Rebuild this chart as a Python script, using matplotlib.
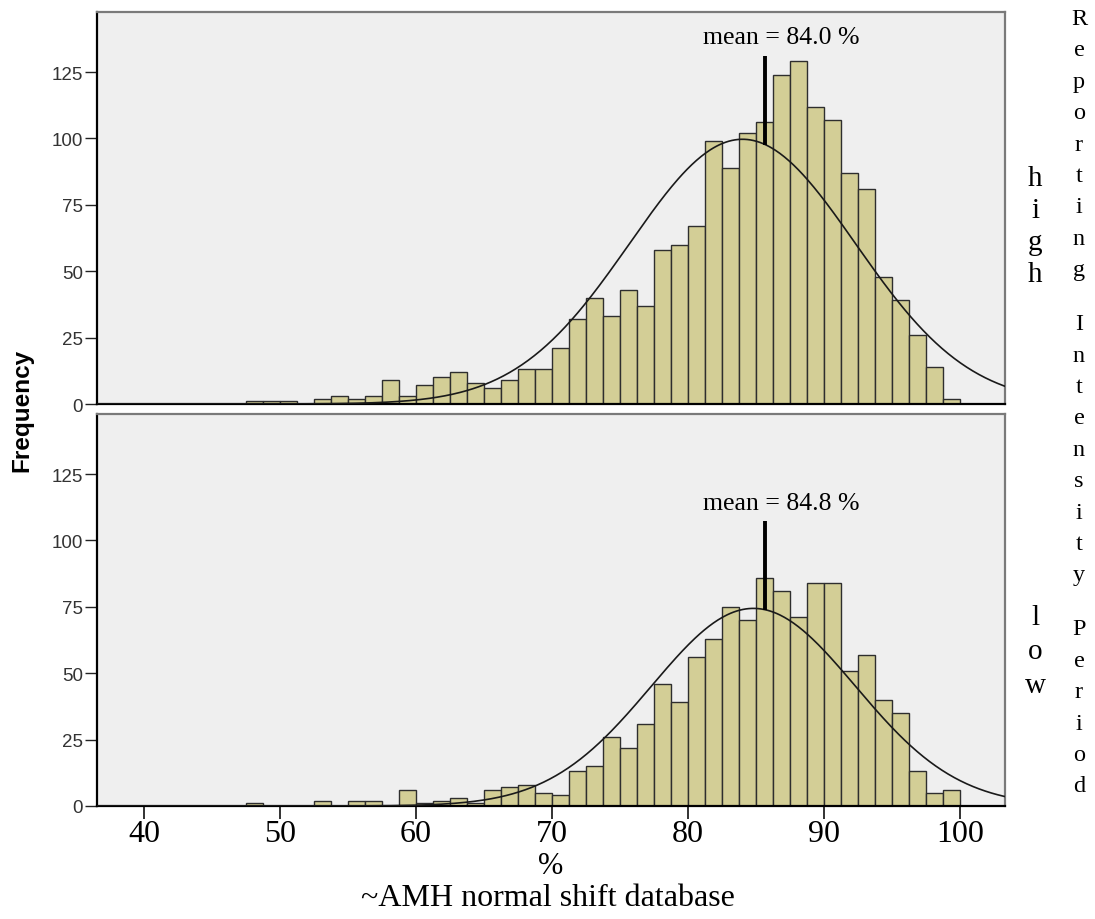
import numpy as np
import matplotlib
matplotlib.use('Agg')
import matplotlib.pyplot as plt

# histogram bins: 1.25 % wide, first bin starts at 47.5 %, last ends at 100 %
bin_start = 47.5
bin_width = 1.25

high_counts = [1, 1, 1, 0, 2, 3, 2, 3, 9, 3, 7, 10, 12, 8, 6, 9, 13, 13, 21, 32, 40,
               33, 43, 37, 58, 60, 67, 99, 89, 102, 106, 124, 129, 112, 107, 87, 81,
               48, 39, 26, 14, 2]
low_counts = [1, 0, 0, 0, 2, 0, 2, 2, 0, 6, 1, 2, 3, 1, 6, 7, 8, 5, 4, 13, 15,
              26, 22, 31, 46, 39, 56, 63, 75, 70, 86, 81, 71, 84, 84, 51, 57,
              40, 35, 13, 5, 6]

high_mean, high_sd = 84.0, 8.3
low_mean, low_sd = 84.8, 7.5

x_ticks = [40, 50, 60, 70, 80, 90, 100]
y_ticks = [0, 25, 50, 75, 100, 125]

W, H = 1095, 920
BAR = '#d3ce96'
FACE = '#efefef'
SERIF = 'Liberation Serif'
SANS = 'Liberation Sans'


def px_box(left, top, right, bottom):
    return [left / W, 1 - bottom / H, (right - left) / W, (bottom - top) / H]


def draw_panel(ax, counts, mean, sd, label_y, line_top, show_x):
    counts = np.array(counts)
    lefts = bin_start + bin_width * np.arange(len(counts))
    ax.set_facecolor(FACE)
    ax.bar(lefts, counts, width=bin_width, align='edge', color=BAR,
           edgecolor='#2e2e2e', linewidth=1.0, zorder=2)

    # fitted normal curve scaled to counts
    xs = np.linspace(36, 104, 600)
    n = counts.sum()
    ys = n * bin_width / (sd * np.sqrt(2 * np.pi)) * np.exp(-(xs - mean) ** 2 / (2 * sd ** 2))
    ax.plot(xs, ys, color='#1a1a1a', lw=1.2, zorder=3)

    # mean marker and label
    mark_x = 85.66
    curve_at_mark = n * bin_width / (sd * np.sqrt(2 * np.pi)) * np.exp(-(mark_x - mean) ** 2 / (2 * sd ** 2))
    ax.plot([mark_x, mark_x], [curve_at_mark, line_top], color='black', lw=2.8,
            solid_capstyle='butt', zorder=4)
    ax.text(mark_x + 1.2, label_y, 'mean = %.1f %%' % mean, ha='center', va='center',
            fontsize=18.5, family=SERIF, zorder=5)

    ax.set_xlim(36.54, 103.3)
    ax.set_ylim(0, 147.6)
    ax.set_yticks(y_ticks)
    ax.tick_params(axis='y', direction='out', length=9, width=1.0, color='#222222',
                   labelsize=13.5, labelcolor='#333333', pad=1)
    for t in ax.get_yticklabels():
        t.set_family(SANS)
    for side in ('left', 'bottom'):
        ax.spines[side].set_color('black')
        ax.spines[side].set_linewidth(1.6)
    for side in ('top', 'right'):
        ax.spines[side].set_color('#7a7a7a')
        ax.spines[side].set_linewidth(1.6)
    if show_x:
        ax.set_xticks(x_ticks)
        ax.tick_params(axis='x', direction='out', length=9, width=1.3, color='#222222',
                       labelsize=23, pad=0.5)
        for t in ax.get_xticklabels():
            t.set_family(SERIF)
    else:
        ax.set_xticks([])


fig = plt.figure(figsize=(W / 100, H / 100), dpi=100)
ax_top = fig.add_axes(px_box(97, 13, 1005, 405))
ax_bot = fig.add_axes(px_box(97, 415, 1005, 807))

draw_panel(ax_top, high_counts, high_mean, high_sd, 138.2, 131, False)
draw_panel(ax_bot, low_counts, low_mean, low_sd, 114.0, 107.3, True)

fig.text(22 / W, 1 - 410 / H, 'Frequency', rotation=90, ha='center', va='center',
         fontsize=17.5, fontweight='bold', family=SANS)
fig.text(551 / W, 1 - 867 / H, '%', ha='center', va='center', fontsize=22, family=SERIF)
fig.text(548 / W, 1 - 899 / H, '~AMH normal shift database', ha='center', va='center',
         fontsize=23, family=SERIF)


def stacked(text, x, y0, step, space_step, size):
    y = y0
    for ch in text:
        if ch == ' ':
            y += space_step - step
            continue
        fig.text(x / W, 1 - y / H, ch, ha='center', va='baseline', fontsize=size, family=SERIF)
        y += step


stacked('high', 1035, 186, 32, 32, 21)
stacked('low', 1035, 625, 34, 34, 21)
stacked('Reporting Intensity Period', 1079, 25, 31.4, 54, 17.5)

fig.savefig('out.png', dpi=100)
